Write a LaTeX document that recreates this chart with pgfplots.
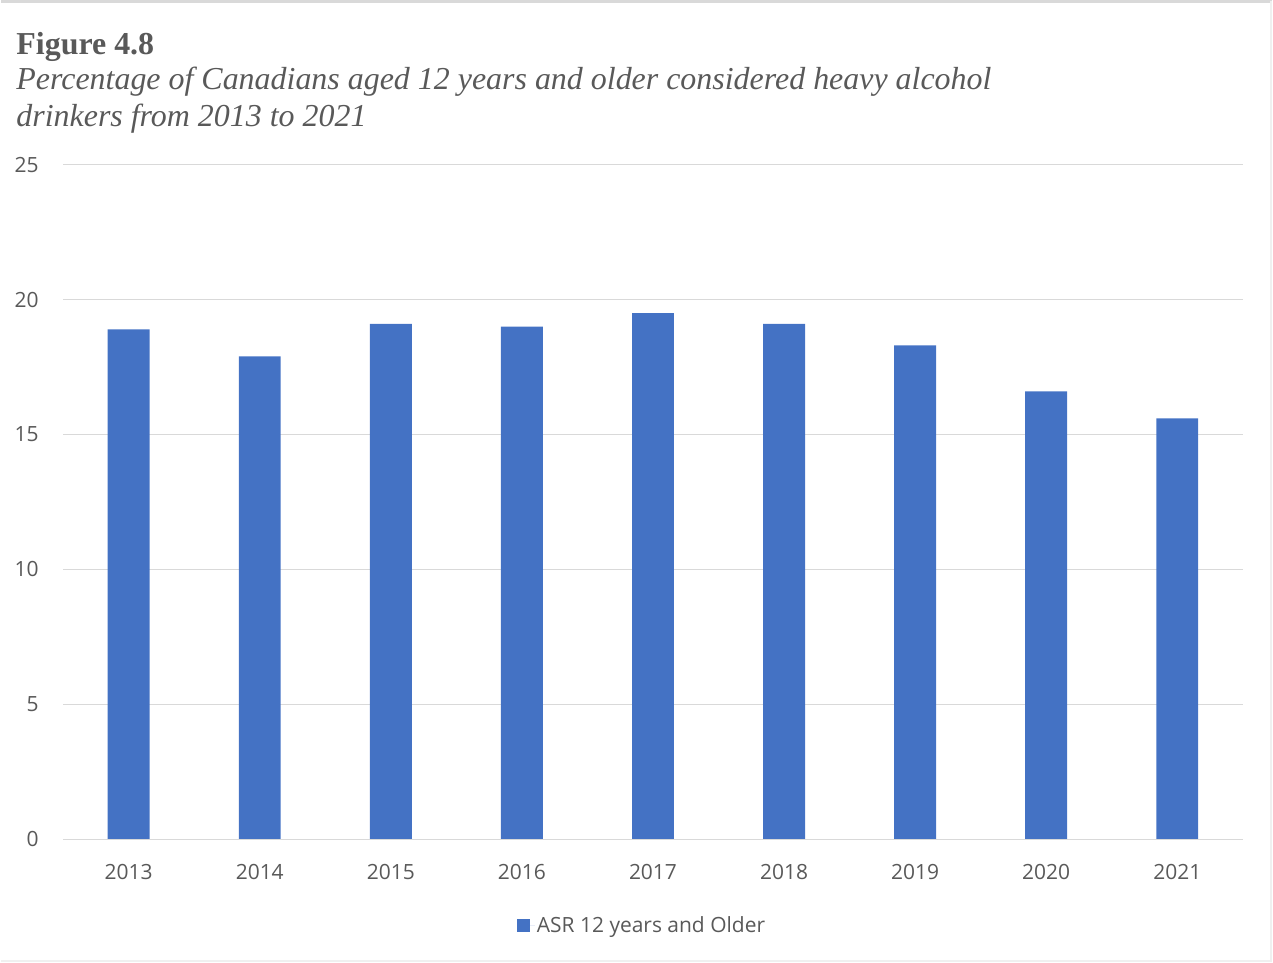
\documentclass[border=0pt]{standalone}
\usepackage{pgfplots}
\pgfplotsset{compat=1.18}
\usepackage{fontspec}
\setmainfont{Liberation Serif}
\newfontfamily\tickfont{Open Sans}
\definecolor{barblue}{HTML}{4472C4}
\definecolor{txtgray}{HTML}{595959}
\definecolor{gridgray}{HTML}{D9D9D9}
\begin{document}
\begin{tikzpicture}[x=1pt,y=1pt]
\path (0,0) rectangle (1273,-964);
\draw[gridgray, line width=2.5pt] (0,-1.5) -- (1273,-1.5);
\draw[black!6, line width=1.5pt] (1272,-1.5) -- (1272,-963) -- (0,-963);
\node[anchor=base west, inner sep=0pt, text=txtgray, font=\fontsize{32}{32}\selectfont\bfseries] at (15,-55) {Figure 4.8};
\node[anchor=base west, inner sep=0pt, text=txtgray, font=\fontsize{32}{32}\selectfont\itshape] at (15,-90) {Percentage of Canadians aged 12 years and older considered heavy alcohol};
\node[anchor=base west, inner sep=0pt, text=txtgray, font=\fontsize{32}{32}\selectfont\itshape] at (15,-127) {drinkers from 2013 to 2021};
\begin{axis}[
  at={(62pt,-841pt)}, anchor=south west,
  scale only axis, width=1182pt, height=676pt,
  xmin=-0.5, xmax=8.5, ymin=0, ymax=25,
  xtick={0,...,8},
  xticklabels={2013,2014,2015,2016,2017,2018,2019,2020,2021},
  ytick={0,5,10,15,20,25},
  /pgf/number format/assume math mode=true,
  axis line style={draw=none},
  major tick length=0pt,
  ymajorgrids, grid style={gridgray, line width=1.5pt},
  tick label style={font=\tickfont\fontsize{21}{21}\selectfont, text=txtgray},
  xticklabel style={yshift=-21pt},
  yticklabel style={xshift=-21pt},
  legend style={at={(0.4907,-0.127)}, anchor=center, draw=none, fill=none,
    font=\tickfont\fontsize{21}{21}\selectfont, text=txtgray},
  legend image code/.code={\fill[barblue] (0pt,-6.5pt) rectangle (13pt,6.5pt); \path (13pt,0) -- (18pt,0);},
]
\addplot[ybar, bar width=42pt, bar shift=0pt, fill=barblue, draw=none] coordinates {
(0,18.9) (1,17.9) (2,19.1) (3,19.0) (4,19.5) (5,19.1) (6,18.3) (7,16.6) (8,15.6)};
\addlegendentry{ASR 12 years and Older}
\draw[gridgray, line width=1.5pt] (axis cs:-0.5,0) -- (axis cs:8.5,0);
\end{axis}
\end{tikzpicture}
\end{document}
